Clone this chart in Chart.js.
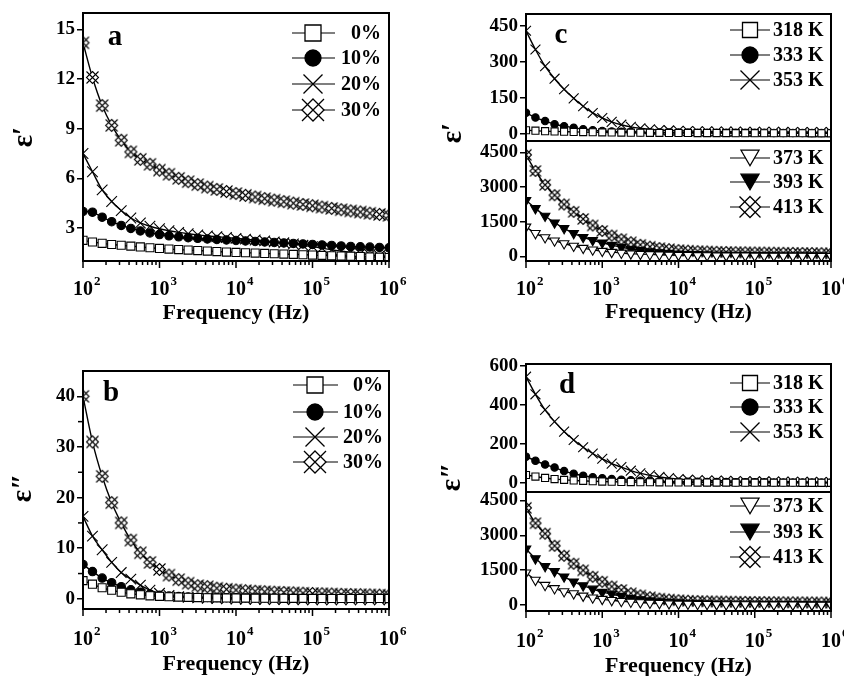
<!DOCTYPE html>
<html>
<head>
<meta charset="utf-8">
<title>Dielectric spectra</title>
<script src="https://cdn.jsdelivr.net/npm/chart.js@4.4.1/dist/chart.umd.min.js"></script>
<style>
html, body { margin:0; padding:0; background:#fff; }
#fig { position:relative; width:844px; height:676px; background:#fff; overflow:hidden; }
#fig canvas { position:absolute; }
</style>
</head>
<body>
<div id="fig">
<canvas id="cA" width="420" height="330" style="left:0px;top:0px"></canvas>
<canvas id="cB" width="420" height="346" style="left:0px;top:330px"></canvas>
<canvas id="cC1" width="424" height="330" style="left:420px;top:0px"></canvas>
<canvas id="cC2" width="424" height="209" style="left:420px;top:121px"></canvas>
<canvas id="cD1" width="424" height="346" style="left:420px;top:330px"></canvas>
<canvas id="cD2" width="424" height="204" style="left:420px;top:472px"></canvas>
</div>
<script>
// ---------------- data ----------------
const freq = [100,133,178,237,316,422,562,750,1000,1330,1780,2370,3160,4220,5620,7500,
  10000,13300,17800,23700,31600,42200,56200,75000,100000,133000,178000,237000,316000,422000,562000,750000,1000000];

// panel a : epsilon' vs filler content
const labelsContent = ['0%', '10%', '20%', '30%'];
const a0  = [2.25,2.15,2.07,2.0,1.95,1.9,1.85,1.8,1.76,1.72,1.69,1.66,1.63,1.6,1.57,1.54,1.52,1.5,1.48,1.46,1.44,1.42,1.4,1.38,1.36,1.34,1.32,1.3,1.29,1.27,1.25,1.23,1.21];
const a10 = [4.0,3.95,3.65,3.38,3.15,2.97,2.82,2.7,2.6,2.52,2.46,2.41,2.37,2.33,2.3,2.27,2.24,2.21,2.18,2.15,2.12,2.09,2.06,2.03,2.0,1.97,1.94,1.91,1.88,1.86,1.84,1.82,1.8];
const a20 = [7.5,6.4,5.3,4.6,4.05,3.6,3.3,3.1,2.95,2.83,2.73,2.65,2.58,2.52,2.47,2.42,2.37,2.32,2.27,2.22,2.16,2.1,2.03,1.95,1.87,1.78,1.68,1.6,1.52,1.45,1.38,1.32,1.27];
const a30 = [14.2,12.1,10.4,9.2,8.3,7.6,7.15,6.85,6.5,6.25,6.0,5.8,5.62,5.47,5.33,5.2,5.08,4.97,4.87,4.77,4.68,4.59,4.5,4.42,4.34,4.26,4.18,4.1,4.03,3.96,3.89,3.82,3.76];

// panel b : epsilon'' vs filler content
const b0  = [3.6,2.9,2.2,1.7,1.3,1.0,0.8,0.6,0.5,0.42,0.36,0.3,0.26,0.22,0.2,0.18,0.16,0.15,0.14,0.13,0.12,0.11,0.1,0.1,0.09,0.09,0.08,0.08,0.08,0.07,0.07,0.07,0.06];
const b10 = [6.8,5.4,4.1,3.2,2.4,1.8,1.3,0.95,0.7,0.55,0.45,0.38,0.32,0.28,0.25,0.22,0.2,0.19,0.18,0.17,0.16,0.15,0.14,0.13,0.13,0.12,0.12,0.11,0.11,0.1,0.1,0.1,0.1];
const b20 = [16.3,12.4,9.7,7.2,5.2,3.9,2.7,1.7,1.1,0.7,0.45,0.3,0.2,0.1,0.05,0.0,-0.05,-0.08,-0.1,-0.12,-0.14,-0.15,-0.16,-0.17,-0.18,-0.18,-0.19,-0.19,-0.2,-0.2,-0.2,-0.2,-0.2];
const b30 = [40.0,31.0,24.2,19.0,15.0,11.6,9.1,7.2,5.8,4.7,3.8,3.1,2.6,2.4,2.1,1.9,1.75,1.6,1.5,1.4,1.32,1.25,1.18,1.12,1.06,1.0,0.95,0.9,0.86,0.82,0.78,0.74,0.7];

// panel c : epsilon' vs temperature
const labelsTempLow  = ['318 K', '333 K', '353 K'];
const labelsTempHigh = ['373 K', '393 K', '413 K'];
const c318 = [15,13,11,10,9,8,7.2,6.5,6,5.5,5,4.7,4.4,4.1,3.9,3.7,3.5,3.35,3.2,3.05,2.95,2.85,2.75,2.65,2.55,2.47,2.4,2.33,2.27,2.2,2.14,2.07,2.0];
const c333 = [88,68,53,40,32,25,19,15,12,10,8.5,7.5,6.8,6.2,5.8,5.5,5.2,5.0,4.8,4.6,4.5,4.4,4.3,4.2,4.1,4.0,3.9,3.85,3.8,3.7,3.65,3.6,3.5];
const c353 = [430,352,282,230,186,148,115,87,66,50,38,29,23,19,16,14,12.5,11.5,10.8,10.2,9.7,9.3,9,8.7,8.4,8.2,8,7.8,7.6,7.4,7.3,7.1,7];
const c373 = [1280,1000,820,680,560,450,360,290,230,185,150,120,100,85,72,62,54,48,43,39,35,32,29,26,24,22,20,18,16,14,12,10,8];
const c393 = [2430,2080,1750,1460,1215,1000,830,700,590,490,400,320,260,210,170,140,115,100,90,80,72,65,60,55,50,47,44,41,38,36,34,32,30];
const c413 = [4400,3700,3100,2650,2250,1930,1620,1340,1100,900,740,610,500,420,360,310,270,245,225,210,198,188,180,174,168,163,158,154,150,146,142,138,134];

// panel d : epsilon'' vs temperature
const d318 = [42,34,27,21,17,14,12,10,8.5,7.5,6.5,5.8,5.2,4.8,4.4,4.1,3.8,3.6,3.4,3.2,3,2.9,2.8,2.7,2.6,2.5,2.4,2.3,2.2,2.1,2,1.9,1.8];
const d333 = [136,115,96,80,62,49,38,31,25,21,18,15,13,11.5,10,9,8,7.5,7,6.5,6,5.6,5.3,5,4.7,4.4,4.2,4,3.8,3.6,3.4,3.2,3];
const d353 = [545,455,375,315,264,221,184,152,125,100,82,64,50,40,32,26,21,18,16,14,13,12,11,10,9.5,9,8.5,8,7.5,7,6.5,6,5.5];
const d373 = [1394,1080,860,720,590,500,400,320,260,210,170,140,115,95,80,68,58,50,44,39,35,31,28,26,24,22,20,18,16,14,12,10,8];
const d393 = [2420,2000,1670,1450,1220,1005,840,700,560,480,390,300,240,195,160,130,110,95,82,72,64,58,53,49,46,43,40,38,36,34,32,30,28];
const d413 = [4180,3520,3070,2550,2120,1780,1495,1220,1005,800,650,510,420,340,280,240,210,190,175,165,157,150,145,140,136,132,128,125,122,119,116,113,110];

// ticks
const xBase = '10';
const xExponents = [2, 3, 4, 5, 6];
const yTicksA  = [3, 6, 9, 12, 15];
const yTicksB  = [0, 10, 20, 30, 40];
const yMinorB  = [5, 15, 25, 35];
const yTicksC1 = [0, 150, 300, 450];
const yTicksC2 = [0, 1500, 3000, 4500];
const yTicksD1 = [0, 200, 400, 600];
const yTicksD2 = [0, 1500, 3000, 4500];

const xTitleText = 'Frequency (Hz)';
const yTitleReal = 'ε\u2032';
const yTitleImag = 'ε\u2033';

// ---------------- drawing helpers ----------------
const SERIF = '"Liberation Serif", "Times New Roman", Times, serif';

function drawMarker(g, kind, x, y, size, lw) {
  const h = size / 2;
  g.save();
  g.lineWidth = lw; g.strokeStyle = '#000'; g.fillStyle = '#fff';
  g.beginPath();
  if (kind === 'square') {
    g.rect(x - h, y - h, size, size); g.fill(); g.stroke();
  } else if (kind === 'circle') {
    g.arc(x, y, h, 0, Math.PI * 2); g.fillStyle = '#000'; g.fill(); g.stroke();
  } else if (kind === 'cross') {
    g.moveTo(x - h, y - h); g.lineTo(x + h, y + h);
    g.moveTo(x + h, y - h); g.lineTo(x - h, y + h); g.stroke();
  } else if (kind === 'xdiamond') {
    g.moveTo(x, y - h); g.lineTo(x + h, y); g.lineTo(x, y + h); g.lineTo(x - h, y); g.closePath();
    g.fill(); g.stroke();
    g.beginPath();
    g.moveTo(x - h, y - h); g.lineTo(x + h, y + h);
    g.moveTo(x + h, y - h); g.lineTo(x - h, y + h); g.stroke();
  } else if (kind === 'tri' || kind === 'trifill') {
    const th = size * 0.866;
    g.moveTo(x - h, y - th / 2); g.lineTo(x + h, y - th / 2); g.lineTo(x, y + th / 2); g.closePath();
    if (kind === 'trifill') g.fillStyle = '#000';
    g.fill(); g.stroke();
  }
  g.restore();
}

function markerCanvas(kind, size, lw) {
  const s = Math.ceil(size + 2 * lw + 2);
  const c = document.createElement('canvas');
  c.width = s; c.height = s;
  drawMarker(c.getContext('2d'), kind, s / 2, s / 2, size, lw);
  return c;
}

function pointOpts(kind, small) {
  switch (kind) {
    case 'square':  return { pointStyle: 'rect', pointRadius: small ? 5 : 5.7, pointBackgroundColor: '#fff' };
    case 'circle':  return { pointStyle: 'circle', pointRadius: small ? 3.7 : 4.2, pointBackgroundColor: '#000' };
    case 'cross':   return { pointStyle: 'crossRot', pointRadius: small ? 7 : 7.5, pointBackgroundColor: '#fff' };
    case 'tri':     return { pointStyle: 'triangle', pointRotation: 180, pointRadius: 5.5, pointBackgroundColor: '#fff' };
    case 'trifill': return { pointStyle: 'triangle', pointRotation: 180, pointRadius: 5.5, pointBackgroundColor: '#000' };
    case 'xdiamond': return { pointStyle: markerCanvas('xdiamond', small ? 11 : 12, 1.1), pointRadius: 6, pointBackgroundColor: '#fff' };
  }
}

const legendSize = {
  big:   { square: 16, circle: 16, cross: 19, xdiamond: 22, tri: 18, trifill: 18 },
  small: { square: 15, circle: 16, cross: 19, xdiamond: 21, tri: 18, trifill: 18 }
};

function panelPlugin(cfg) {
  return {
    id: 'panel_' + cfg.id,
    afterDraw(chart) {
      const g = chart.ctx, ca = chart.chartArea, xs = chart.scales.x, ys = chart.scales.y;
      g.save();
      g.strokeStyle = '#000'; g.fillStyle = '#000';
      const line = (x1, y1, x2, y2) => { g.beginPath(); g.moveTo(x1, y1); g.lineTo(x2, y2); g.stroke(); };
      // frame
      g.lineWidth = 2;
      g.strokeRect(ca.left, ca.top, ca.right - ca.left, ca.bottom - ca.top);
      // minor y ticks
      if (cfg.yMinor) {
        g.lineWidth = 1.5;
        cfg.yMinor.forEach(v => { const p = ys.getPixelForValue(v); line(ca.left - 5, p, ca.left, p); });
      }
      // x axis ticks + labels + title
      if (cfg.xAxis) {
        g.lineWidth = 1.5;
        xExponents.forEach((e, i) => {
          const px = xs.getPixelForValue(Math.pow(10, e));
          line(px, ca.bottom, px, ca.bottom + 7);
          if (i < xExponents.length - 1) {
            for (let m = 2; m <= 9; m++) {
              const p = xs.getPixelForValue(m * Math.pow(10, e));
              line(p, ca.bottom, p, ca.bottom + 4);
            }
          }
          g.font = 'bold 20px ' + SERIF;
          g.textAlign = 'center'; g.textBaseline = 'middle';
          g.fillText(xBase, px, ca.bottom + cfg.xLabelDy);
          const w = g.measureText(xBase).width;
          g.font = 'bold 13px ' + SERIF;
          g.textAlign = 'left';
          g.fillText(String(e), px + w / 2 + 1, ca.bottom + cfg.xLabelDy - 8);
        });
        g.font = 'bold 22px ' + SERIF;
        g.textAlign = 'center'; g.textBaseline = 'middle';
        g.fillText(xTitleText, (ca.left + ca.right) / 2, ca.bottom + cfg.xTitleDy);
      }
      // y title
      if (cfg.yTitle) {
        g.save();
        g.translate(cfg.yTitle.x, cfg.yTitle.y);
        g.rotate(-Math.PI / 2);
        g.font = 'bold 29px ' + SERIF;
        g.textAlign = 'center'; g.textBaseline = 'middle';
        g.fillText(cfg.yTitle.text, 0, 0);
        g.restore();
      }
      // panel letter
      if (cfg.letter) {
        g.font = 'bold 29px ' + SERIF;
        g.textAlign = 'center'; g.textBaseline = 'alphabetic';
        g.fillText(cfg.letter.text, cfg.letter.x, cfg.letter.y);
      }
      // legend
      if (cfg.legend) {
        const L = cfg.legend;
        const sizes = cfg.small ? legendSize.small : legendSize.big;
        cfg.series.forEach((s, i) => {
          const y = L.rows[i];
          g.lineWidth = 1.2;
          line(L.x1, y, L.x2, y);
          drawMarker(g, s.kind, L.mx, y, sizes[s.kind], 1.3);
          g.fillStyle = '#000';
          g.font = 'bold 20px ' + SERIF;
          g.textAlign = L.align; g.textBaseline = 'middle';
          g.fillText(s.label, L.tx, y + 1);
        });
      }
      g.restore();
    }
  };
}

function makeChart(cfg) {
  const el = document.getElementById(cfg.id);
  const W = el.width, H = el.height;
  const datasets = cfg.series.map(s => Object.assign({
    label: s.label,
    data: freq.map((f, i) => ({ x: f, y: s.values[i] })),
    borderColor: '#000',
    borderWidth: 1.4,
    pointBorderColor: '#000',
    pointBorderWidth: 1.1,
    cubicInterpolationMode: 'monotone',
    fill: false
  }, pointOpts(s.kind, cfg.small)));

  return new Chart(el, {
    type: 'line',
    data: { datasets },
    options: {
      responsive: false,
      animation: false,
      devicePixelRatio: 1,
      events: [],
      layout: { padding: { left: 0, top: cfg.area.top, right: W - cfg.area.right, bottom: 0 } },
      plugins: { legend: { display: false }, tooltip: { enabled: false } },
      scales: {
        x: {
          type: 'logarithmic', min: 100, max: 1000000,
          ticks: { display: false },
          grid: { display: false },
          border: { display: false },
          afterFit: s => { s.height = H - cfg.area.bottom; s.paddingLeft = 0; s.paddingRight = 0; s.paddingTop = 0; s.paddingBottom = 0; }
        },
        y: {
          type: 'linear', min: cfg.ymin, max: cfg.ymax,
          afterBuildTicks: s => { s.ticks = cfg.yTicks.map(v => ({ value: v })); },
          ticks: {
            font: { family: SERIF, size: 19, weight: 'bold' },
            color: '#000', padding: 2, autoSkip: false, maxRotation: 0,
            callback: v => String(v)
          },
          grid: { display: true, drawOnChartArea: false, drawTicks: true, tickLength: 6, color: '#000', lineWidth: 1.5 },
          border: { display: false },
          afterFit: s => { s.width = cfg.area.left; s.paddingTop = 0; s.paddingBottom = 0; s.paddingLeft = 0; s.paddingRight = 0; }
        }
      }
    },
    plugins: [panelPlugin(cfg)]
  });
}

const contentSeries = (v0, v10, v20, v30) => [
  { label: labelsContent[0], kind: 'square', values: v0 },
  { label: labelsContent[1], kind: 'circle', values: v10 },
  { label: labelsContent[2], kind: 'cross', values: v20 },
  { label: labelsContent[3], kind: 'xdiamond', values: v30 }
];

// ---- panel a
makeChart({
  id: 'cA', area: { left: 83, top: 13, right: 389, bottom: 261 },
  ymin: 1, ymax: 16, yTicks: yTicksA,
  series: contentSeries(a0, a10, a20, a30),
  xAxis: true, xLabelDy: 29, xTitleDy: 52,
  yTitle: { text: yTitleReal, x: 25, y: 137 },
  letter: { text: 'a', x: 115, y: 45 },
  legend: { x1: 292, x2: 335, mx: 313, tx: 381, align: 'right', rows: [33, 58, 84, 110] }
});

// ---- panel b
makeChart({
  id: 'cB', area: { left: 83, top: 41, right: 389, bottom: 279 },
  ymin: -2, ymax: 45, yTicks: yTicksB, yMinor: yMinorB,
  series: contentSeries(b0, b10, b20, b30),
  xAxis: true, xLabelDy: 31, xTitleDy: 55,
  yTitle: { text: yTitleImag, x: 24, y: 158 },
  letter: { text: 'b', x: 111, y: 71 },
  legend: { x1: 293, x2: 338, mx: 315, tx: 383, align: 'right', rows: [55, 82, 107, 132] }
});

// ---- panel c (upper / lower)
makeChart({
  id: 'cC1', small: true, area: { left: 106, top: 14, right: 411, bottom: 141 },
  ymin: -30, ymax: 500, yTicks: yTicksC1,
  series: [
    { label: labelsTempLow[0], kind: 'square', values: c318 },
    { label: labelsTempLow[1], kind: 'circle', values: c333 },
    { label: labelsTempLow[2], kind: 'cross', values: c353 }
  ],
  xAxis: false,
  yTitle: { text: yTitleReal, x: 34, y: 133 },
  letter: { text: 'c', x: 141, y: 43 },
  legend: { x1: 310, x2: 350, mx: 330, tx: 353, align: 'left', rows: [30, 55, 80] }
});
makeChart({
  id: 'cC2', small: true, area: { left: 106, top: 20, right: 411, bottom: 140 },
  ymin: -200, ymax: 5000, yTicks: yTicksC2,
  series: [
    { label: labelsTempHigh[0], kind: 'tri', values: c373 },
    { label: labelsTempHigh[1], kind: 'trifill', values: c393 },
    { label: labelsTempHigh[2], kind: 'xdiamond', values: c413 }
  ],
  xAxis: true, xLabelDy: 29, xTitleDy: 51,
  legend: { x1: 310, x2: 350, mx: 330, tx: 353, align: 'left', rows: [37, 61, 86] }
});

// ---- panel d (upper / lower)
makeChart({
  id: 'cD1', small: true, area: { left: 106, top: 34, right: 411, bottom: 162 },
  ymin: -45, ymax: 610, yTicks: yTicksD1,
  series: [
    { label: labelsTempLow[0], kind: 'square', values: d318 },
    { label: labelsTempLow[1], kind: 'circle', values: d333 },
    { label: labelsTempLow[2], kind: 'cross', values: d353 }
  ],
  xAxis: false,
  yTitle: { text: yTitleImag, x: 33, y: 147 },
  letter: { text: 'd', x: 147, y: 63 },
  legend: { x1: 310, x2: 350, mx: 330, tx: 353, align: 'left', rows: [53, 77, 102] }
});
makeChart({
  id: 'cD2', small: true, area: { left: 106, top: 20, right: 411, bottom: 139 },
  ymin: -250, ymax: 4860, yTicks: yTicksD2,
  series: [
    { label: labelsTempHigh[0], kind: 'tri', values: d373 },
    { label: labelsTempHigh[1], kind: 'trifill', values: d393 },
    { label: labelsTempHigh[2], kind: 'xdiamond', values: d413 }
  ],
  xAxis: true, xLabelDy: 31, xTitleDy: 55,
  legend: { x1: 310, x2: 350, mx: 330, tx: 353, align: 'left', rows: [34, 60, 85] }
});
</script>
</body>
</html>
